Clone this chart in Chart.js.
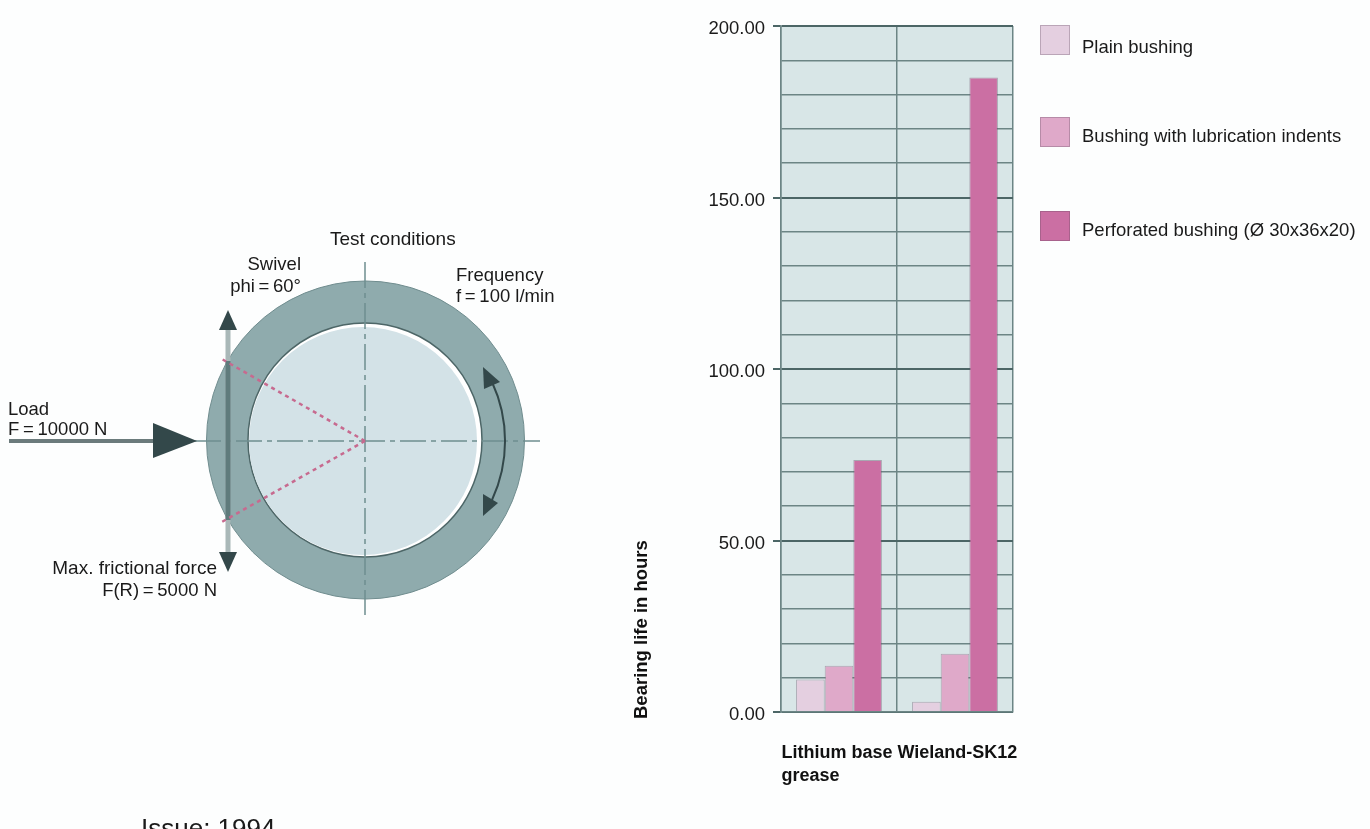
<!DOCTYPE html>
<html>
<head>
<meta charset="utf-8">
<title>Bearing life</title>
<script src="https://cdn.jsdelivr.net/npm/chart.js@4"></script>
<style>
  html, body { margin: 0; padding: 0; background: #fdfefe; overflow: hidden; }
  #wrap { position: relative; width: 1370px; height: 829px; overflow: hidden; font-family: "Liberation Sans", sans-serif; color: #1a1a1a; }
  #myChart { position: absolute; left: 0; top: 0; }
  #diagram { position: absolute; left: 0; top: 0; }
  #diagram text { font-family: "Liberation Sans", sans-serif; font-size: 18.5px; fill: #1a1a1a; }
  .swatch { position: absolute; left: 1040px; width: 30px; height: 30px; box-sizing: border-box; border: 1px solid rgba(90,70,90,0.3); }
  .legendText { position: absolute; left: 1082px; font-size: 18.5px; line-height: 20px; white-space: nowrap; }
</style>
</head>
<body>
<div id="wrap">
  <canvas id="myChart" width="1370" height="829"></canvas>
  <svg id="diagram" width="1370" height="829" xmlns="http://www.w3.org/2000/svg">
    <!-- ring and shaft -->
    <circle cx="365.5" cy="440" r="159" fill="#8fabad" stroke="#6f8c8e" stroke-width="1"/>
    <circle cx="365" cy="440" r="117" fill="#ffffff" stroke="#4d6667" stroke-width="1.5"/>
    <circle cx="363" cy="441" r="114" fill="#d3e2e7"/>
    <!-- centre lines -->
    <g stroke="#6f8f90" stroke-width="1.5" fill="none" stroke-dasharray="26 5 5 5">
      <line x1="195" y1="441" x2="540" y2="441"/>
      <line x1="365" y1="262" x2="365" y2="615"/>
    </g>
    <!-- swivel arrow -->
    <line x1="228" y1="325" x2="228" y2="556" stroke="#a9b8b8" stroke-width="5"/>
    <line x1="228" y1="361" x2="228" y2="520" stroke="#5f7b7c" stroke-width="5"/>
    <polygon points="228,310 219,330 237,330" fill="#33484a"/>
    <polygon points="228,572 219,552 237,552" fill="#33484a"/>
    <!-- swivel angle -->
    <g stroke="#c76a8f" stroke-width="2.5" fill="none" stroke-dasharray="4 4">
      <line x1="365" y1="441" x2="220" y2="358"/>
      <line x1="365" y1="441" x2="220" y2="523"/>
    </g>
    <!-- load arrow -->
    <line x1="9" y1="441" x2="160" y2="441" stroke="#6b7b7c" stroke-width="4"/>
    <polygon points="153,423 197,441 153,458" fill="#33484a"/>
    <!-- frequency arrow -->
    <path d="M 492 382 A 140 140 0 0 1 492 500" fill="none" stroke="#33484a" stroke-width="2"/>
    <polygon points="483,367 500,382 484,389" fill="#33484a"/>
    <polygon points="483,494 498,503 483,516" fill="#33484a"/>
    <!-- labels, thin spaces round the equals signs -->
    <text x="330" y="245" style="font-size:19px">Test conditions</text>
    <text x="301" y="270" text-anchor="end">Swivel</text>
    <text x="301" y="292" text-anchor="end">phi&#8201;=&#8201;60°</text>
    <text x="456" y="281">Frequency</text>
    <text x="456" y="302">f&#8201;=&#8201;100 l/min</text>
    <text x="8" y="415">Load</text>
    <text x="8" y="435">F&#8201;=&#8201;10000 N</text>
    <text x="217" y="574" text-anchor="end" style="font-size:19px">Max. frictional force</text>
    <text x="217" y="596" text-anchor="end">F(R)&#8201;=&#8201;5000 N</text>
    <text x="141" y="837" style="font-size:26px">Issue: 1994</text>
  </svg>
  <div id="legend"></div>
</div>
<script>
// Values
var categories = [["Lithium base", "grease"], "Wieland-SK12"];
var seriesNames = ["Plain bushing", "Bushing with lubrication indents", "Perforated bushing (Ø 30x36x20)"];
var plainBushing = [9.5, 3];
var indentBushing = [13.5, 17];
var perforatedBushing = [73.5, 185];
var seriesColors = ["#e4cfe0", "#dfa9c9", "#cb6fa3"];
var yTitle = "Bearing life in hours";

var gridColor = "#6c8585";
var majorColor = "#4c6666";

// Light blue plot background
var plotBackground = {
  id: "plotBackground",
  beforeDraw: function (chart) {
    var a = chart.chartArea;
    chart.ctx.save();
    chart.ctx.fillStyle = "#d8e6e7";
    chart.ctx.fillRect(a.left, a.top, a.width, a.height);
    chart.ctx.restore();
  }
};

// The axis title starts a little below the axis in the original
var nudgeYTitle = {
  id: "nudgeYTitle",
  afterLayout: function (chart) {
    var scale = chart.scales.y;
    var drawTitle = scale.constructor.prototype.drawTitle;
    scale.drawTitle = function () {
      chart.ctx.save();
      chart.ctx.translate(0, 7);
      drawTitle.call(scale);
      chart.ctx.restore();
    };
  }
};

function makeDataset(i, values) {
  return {
    label: seriesNames[i],
    data: values,
    backgroundColor: seriesColors[i],
    borderColor: "rgba(110,90,110,0.45)",
    borderWidth: 1
  };
}

new Chart(document.getElementById("myChart").getContext("2d"), {
  type: "bar",
  data: {
    labels: categories,
    datasets: [
      makeDataset(0, plainBushing),
      makeDataset(1, indentBushing),
      makeDataset(2, perforatedBushing)
    ]
  },
  plugins: [plotBackground, nudgeYTitle],
  options: {
    responsive: false,
    animation: false,
    layout: { padding: { left: 631, right: 357, top: 26, bottom: 0 } },
    plugins: { legend: { display: false }, tooltip: { enabled: false } },
    datasets: { bar: { categoryPercentage: 0.74, barPercentage: 1 } },
    scales: {
      x: {
        afterFit: function (scale) { scale.height = 117; },
        grid: { color: gridColor, lineWidth: 1.5, drawTicks: false },
        border: { color: gridColor, width: 1.5 },
        ticks: {
          align: "start",
          labelOffset: -57.5,
          padding: 30,
          maxRotation: 0,
          autoSkip: false,
          color: "#111111",
          font: { family: "Liberation Sans", size: 18, weight: "bold", lineHeight: 1.25 }
        }
      },
      y: {
        min: 0,
        max: 200,
        afterFit: function (scale) { scale.width = 150; },
        title: {
          display: true,
          text: yTitle,
          align: "start",
          color: "#111111",
          padding: 0,
          font: { family: "Liberation Sans", size: 18.5, weight: "bold" }
        },
        border: { color: gridColor, width: 1.5 },
        grid: {
          tickLength: 8,
          color: function (c) { return c.tick.value % 50 === 0 ? majorColor : gridColor; },
          lineWidth: function (c) { return c.tick.value % 50 === 0 ? 2 : 1.5; },
          tickColor: function (c) { return c.tick.value % 50 === 0 ? majorColor : "rgba(0,0,0,0)"; }
        },
        ticks: {
          stepSize: 10,
          autoSkip: false,
          padding: 8,
          labelOffset: 3,
          color: "#1a1a1a",
          font: { family: "Liberation Sans", size: 18.5 },
          callback: function (v) { return v % 50 === 0 ? v.toFixed(2) : ""; }
        }
      }
    }
  }
});

// Legend with the big gaps of the original
var legend = document.getElementById("legend");
var swatchTops = [25, 117, 211];
var textTops = [37, 126, 220];
for (var i = 0; i < seriesNames.length; i = i + 1) {
  var s = document.createElement("div");
  s.className = "swatch";
  s.style.top = swatchTops[i] + "px";
  s.style.background = seriesColors[i];
  legend.appendChild(s);
  var t = document.createElement("div");
  t.className = "legendText";
  t.style.top = textTops[i] + "px";
  t.textContent = seriesNames[i];
  legend.appendChild(t);
}
</script>
</body>
</html>
